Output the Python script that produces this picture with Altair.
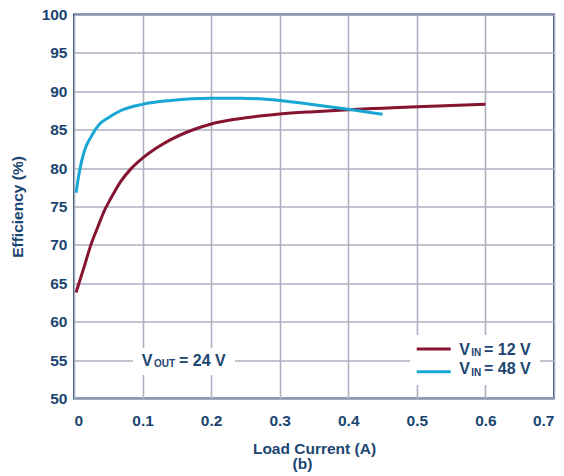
import altair as alt
import pandas as pd

# ---- data ----
load_12 = [0.003, 0.015, 0.025, 0.035, 0.044, 0.054, 0.0685, 0.083, 0.1, 0.122, 0.141, 0.165, 0.2,
           0.238, 0.267, 0.3, 0.35, 0.4, 0.45, 0.5, 0.55, 0.6]
eff_12 = [63.8, 67.2, 70.1, 72.4, 74.4, 76.1, 78.3, 79.9, 81.3, 82.7, 83.7, 84.7, 85.75,
          86.4, 86.75, 87.05, 87.35, 87.6, 87.8, 88.0, 88.15, 88.3]

load_48 = [0.003, 0.008, 0.015, 0.025, 0.037, 0.049, 0.0685, 0.1, 0.141, 0.2, 0.243, 0.3, 0.35, 0.4, 0.45]
eff_48 = [76.8, 79.6, 82.2, 84.1, 85.7, 86.5, 87.5, 88.3, 88.8, 89.1, 89.1, 88.8, 88.25, 87.65, 87.0]

series_names = ["VIN = 12 V", "VIN = 48 V"]
series_colors = ["#84142f", "#19a6d3"]

x_ticks = [0, 0.1, 0.2, 0.3, 0.4, 0.5, 0.6, 0.7]
y_ticks = [50, 55, 60, 65, 70, 75, 80, 85, 90, 95, 100]

NAVY = "#1b4571"
GRID = "#adafc0"
FONT = "Liberation Sans"

df = pd.concat([
    pd.DataFrame({"series": series_names[0], "load": load_12, "eff": eff_12}),
    pd.DataFrame({"series": series_names[1], "load": load_48, "eff": eff_48}),
])

one = pd.DataFrame({"a": [0]})

x_enc = alt.X(
    "load:Q",
    scale=alt.Scale(domain=[0, 0.7], nice=False, zero=False),
    axis=alt.Axis(
        values=x_ticks,
        grid=True,
        title="Load Current (A)",
        labelExpr="datum.value == 0 ? '0' : format(datum.value, '.1f')",
        labelBaseline="alphabetic",
        labelPadding=26.5,
        titleBaseline="alphabetic",
        titleY=54.5,
    ),
)
y_enc = alt.Y(
    "eff:Q",
    scale=alt.Scale(domain=[50, 100], nice=False, zero=False),
    axis=alt.Axis(
        values=y_ticks,
        grid=True,
        title="Efficiency (%)",
        labelPadding=7,
        titleBaseline="middle",
        titleX=-57,
        titleY=192,
    ),
)

lines = alt.Chart(df).mark_line(strokeWidth=3, interpolate="monotone").encode(
    x=x_enc,
    y=y_enc,
    color=alt.Color("series:N", scale=alt.Scale(domain=series_names, range=series_colors), legend=None),
)

# white boxes behind annotation and legend (pixel positions inside the plot)
vout_box = alt.Chart(one).mark_rect(color="white").encode(
    x=alt.value(59), x2=alt.value(161), y=alt.value(333.5), y2=alt.value(360.5)
)
legend_box = alt.Chart(one).mark_rect(color="white").encode(
    x=alt.value(336), x2=alt.value(466), y=alt.value(320.5), y2=alt.value(370.5)
)
leg_line1 = alt.Chart(one).mark_rule(color=series_colors[0], strokeWidth=3).encode(
    x=alt.value(342.7), x2=alt.value(376.7), y=alt.value(334.5)
)
leg_line2 = alt.Chart(one).mark_rule(color=series_colors[1], strokeWidth=3).encode(
    x=alt.value(342.7), x2=alt.value(376.7), y=alt.value(357.2)
)


def txt(s, x, y, size=16, align="left"):
    return alt.Chart(one).mark_text(
        text=s, font=FONT, fontWeight="bold", fontSize=size, color=NAVY,
        align=align, baseline="alphabetic",
    ).encode(x=alt.value(x), y=alt.value(y))


texts = [
    txt("V", 385.3, 340.5),
    txt("IN", 397.2, 341.8, size=10),
    txt("= 12 V", 410, 340.5),
    txt("V", 385.3, 359.8),
    txt("IN", 397.2, 361.1, size=10),
    txt("= 48 V", 410, 359.8),
    txt("V", 67.7, 351.2),
    txt("OUT", 80, 352.2, size=10),
    txt("= 24 V", 105, 351.2),
    txt("(b)", 228.5, 454, size=15.5, align="center"),
]

chart = alt.layer(lines, vout_box, legend_box, leg_line1, leg_line2, *texts).properties(
    width=480,
    height=384,
    autosize=alt.AutoSizeParams(type="none"),
    padding={"left": 66, "top": 6.5, "right": 2, "bottom": 76},
).configure_view(
    stroke=NAVY, strokeWidth=2
).configure_axis(
    labelFont=FONT, labelFontSize=15.5, labelFontWeight="bold", labelColor=NAVY,
    titleFont=FONT, titleFontSize=15.5, titleFontWeight="bold", titleColor=NAVY,
    domain=False, ticks=False, gridColor=GRID, gridWidth=1.6, gridOpacity=1,
)

chart.save("out.html", embed_options={"renderer": "svg", "actions": False})
